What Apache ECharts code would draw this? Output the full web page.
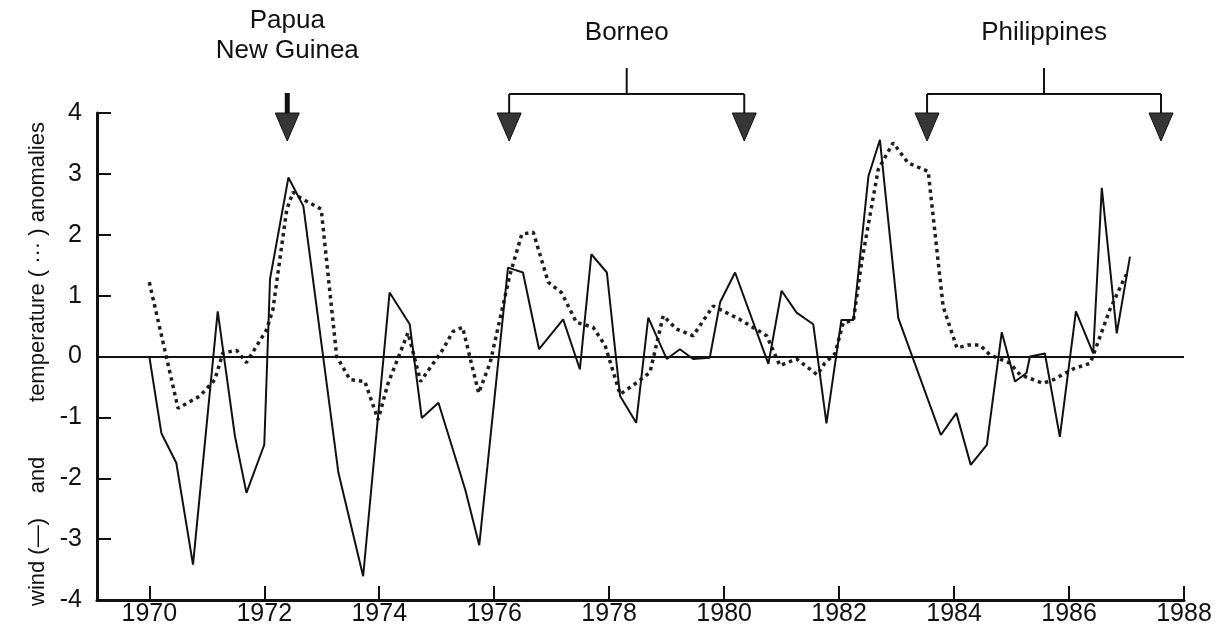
<!DOCTYPE html>
<html>
<head>
<meta charset="utf-8">
<title>Wind and temperature anomalies 1970-1988</title>
<script src="https://cdn.jsdelivr.net/npm/echarts@6/dist/echarts.min.js"></script>
<style>
  html, body { margin: 0; padding: 0; background: #ffffff; }
  #chart { width: 1215px; height: 634px; }
</style>
</head>
<body>
<div id="chart"></div>
<script>
// Wind anomalies (solid line): [year, anomaly]
const windPoints = [
  [1970.00, 0.00], [1970.21, -1.26], [1970.47, -1.75], [1970.76, -3.42],
  [1971.19, 0.74], [1971.49, -1.31], [1971.69, -2.24], [1972.00, -1.45],
  [1972.10, 1.27], [1972.42, 2.94], [1972.68, 2.47], [1973.29, -1.91],
  [1973.72, -3.61], [1974.18, 1.05], [1974.53, 0.53], [1974.74, -1.01],
  [1975.03, -0.76], [1975.37, -1.80], [1975.50, -2.20], [1975.74, -3.10],
  [1976.24, 1.46], [1976.50, 1.38], [1976.78, 0.12], [1977.20, 0.61],
  [1977.49, -0.21], [1977.69, 1.68], [1977.96, 1.38], [1978.19, -0.65],
  [1978.47, -1.09], [1978.68, 0.64], [1979.00, -0.04], [1979.23, 0.12],
  [1979.46, -0.04], [1979.75, -0.02], [1979.93, 0.89], [1980.19, 1.38],
  [1980.77, -0.12], [1981.00, 1.08], [1981.26, 0.72], [1981.55, 0.53],
  [1981.78, -1.10], [1982.04, 0.60], [1982.25, 0.60], [1982.51, 2.96],
  [1982.71, 3.56], [1983.03, 0.63], [1983.77, -1.29], [1984.04, -0.93],
  [1984.29, -1.78], [1984.57, -1.45], [1984.83, 0.40], [1985.06, -0.41],
  [1985.26, -0.27], [1985.32, 0.00], [1985.58, 0.05], [1985.84, -1.32],
  [1986.12, 0.74], [1986.42, 0.05], [1986.57, 2.77], [1986.83, 0.38],
  [1987.06, 1.64]
];

// Sea surface temperature anomalies (dotted line): [year, anomaly]
const tempPoints = [
  [1970.00, 1.22], [1970.50, -0.85], [1970.88, -0.65], [1971.14, -0.38],
  [1971.28, 0.06], [1971.52, 0.10], [1971.69, -0.10], [1972.04, 0.44],
  [1972.15, 0.77], [1972.39, 2.41], [1972.50, 2.70], [1972.62, 2.61],
  [1972.99, 2.42], [1973.26, 0.00], [1973.49, -0.38], [1973.75, -0.41],
  [1973.98, -1.04], [1974.15, -0.45], [1974.50, 0.39], [1974.72, -0.41],
  [1975.11, 0.12], [1975.28, 0.41], [1975.45, 0.48], [1975.73, -0.60],
  [1975.93, -0.10], [1976.27, 1.33], [1976.48, 2.01], [1976.68, 2.04],
  [1976.94, 1.22], [1977.17, 1.05], [1977.43, 0.56], [1977.72, 0.48],
  [1977.93, 0.18], [1978.19, -0.62], [1978.48, -0.43], [1978.71, -0.26],
  [1978.94, 0.67], [1979.17, 0.45], [1979.46, 0.34], [1979.81, 0.83],
  [1980.27, 0.61], [1980.74, 0.34], [1980.97, -0.15], [1981.26, -0.04],
  [1981.62, -0.30], [1981.75, -0.11], [1981.93, 0.05], [1982.07, 0.55],
  [1982.25, 0.60], [1982.39, 1.54], [1982.68, 3.07], [1982.94, 3.51],
  [1983.20, 3.18], [1983.55, 3.04], [1983.81, 0.82], [1984.05, 0.14],
  [1984.25, 0.19], [1984.45, 0.19], [1984.62, 0.03], [1984.97, -0.11],
  [1985.15, -0.30], [1985.32, -0.36], [1985.55, -0.44], [1985.73, -0.38],
  [1986.08, -0.20], [1986.37, -0.11], [1986.71, 0.77], [1986.95, 1.26],
  [1987.00, 1.35]
];

// Axis ticks
const yearTicks = [1970, 1972, 1974, 1976, 1978, 1980, 1982, 1984, 1986, 1988];
const anomalyTicks = [-4, -3, -2, -1, 0, 1, 2, 3, 4];

// Events marked above the plot
const papuaYear = 1972.4;
const borneoYears = [1976.26, 1980.35];
const philippinesYears = [1983.53, 1987.6];

const FONT = '"Liberation Sans", Arial, Helvetica, sans-serif';
const INK = '#111111';

const chart = echarts.init(document.getElementById('chart'), null, { renderer: 'canvas' });

const option = {
  backgroundColor: '#ffffff',
  animation: false,
  grid: { left: 97, right: 31, top: 113, bottom: 34, containLabel: false },
  xAxis: {
    type: 'value',
    min: 1969.09,
    max: 1988,
    axisLine: { show: true, onZero: false, lineStyle: { color: INK, width: 3 } },
    axisTick: {
      show: true, inside: true, length: 14,
      customValues: yearTicks,
      lineStyle: { color: INK, width: 2 }
    },
    axisLabel: {
      show: true, margin: 2,
      customValues: yearTicks,
      fontFamily: FONT, fontSize: 25, color: INK,
      formatter: v => String(v)
    },
    splitLine: { show: false }
  },
  yAxis: {
    type: 'value',
    min: anomalyTicks[0],
    max: anomalyTicks[anomalyTicks.length - 1],
    interval: 1,
    axisLine: { show: true, onZero: false, lineStyle: { color: INK, width: 3 } },
    axisTick: { show: true, inside: true, length: 14, lineStyle: { color: INK, width: 2 } },
    axisLabel: { show: true, margin: 15, fontFamily: FONT, fontSize: 25, color: INK },
    splitLine: { show: false }
  },
  series: [
    {
      name: 'wind',
      type: 'line',
      data: windPoints,
      showSymbol: false,
      symbol: 'none',
      lineStyle: { color: INK, width: 2 },
      z: 3,
      markLine: {
        silent: true,
        symbol: ['none', 'none'],
        label: { show: false },
        lineStyle: { color: INK, width: 2, type: 'solid' },
        data: [{ yAxis: 0 }]
      }
    },
    {
      name: 'temperature',
      type: 'line',
      data: tempPoints,
      showSymbol: false,
      symbol: 'none',
      lineStyle: { color: '#1e1e1e', width: 3.5, type: [3.5, 4] },
      z: 2
    }
  ]
};

chart.setOption(option);

// Pixel helpers for the annotation layer above the plot
function xPix(year) {
  return chart.convertToPixel({ gridIndex: 0 }, [year, 0])[0];
}

const HEAD_TOP = 113, HEAD_TIP = 141, HEAD_HALF = 12;
const BAR_Y = 94, STEM_TOP = 68;
const ANNOT_FONT = '26px ' + FONT;

function arrowHead(x) {
  return {
    type: 'polygon',
    shape: { points: [[x - HEAD_HALF, HEAD_TOP], [x + HEAD_HALF, HEAD_TOP], [x, HEAD_TIP]] },
    style: { fill: '#363636', stroke: INK, lineWidth: 1 },
    z: 10
  };
}

function bracket(years, label) {
  const xa = xPix(years[0]);
  const xb = xPix(years[1]);
  const xm = (xa + xb) / 2;
  return [
    {
      type: 'text',
      style: { text: label, x: xm, y: 33, align: 'center', verticalAlign: 'middle',
               font: ANNOT_FONT, fill: INK },
      z: 10
    },
    { type: 'line', shape: { x1: xm, y1: STEM_TOP, x2: xm, y2: BAR_Y },
      style: { stroke: INK, lineWidth: 2 }, z: 10 },
    { type: 'line', shape: { x1: xa, y1: BAR_Y, x2: xb, y2: BAR_Y },
      style: { stroke: INK, lineWidth: 2 }, z: 10 },
    { type: 'line', shape: { x1: xa, y1: BAR_Y, x2: xa, y2: HEAD_TOP },
      style: { stroke: INK, lineWidth: 2 }, z: 10 },
    { type: 'line', shape: { x1: xb, y1: BAR_Y, x2: xb, y2: HEAD_TOP },
      style: { stroke: INK, lineWidth: 2 }, z: 10 },
    arrowHead(xa),
    arrowHead(xb)
  ];
}

const xp = xPix(papuaYear);
const graphics = [
  {
    type: 'text',
    style: { text: 'Papua\nNew Guinea', x: xp, y: 6, align: 'center', verticalAlign: 'top',
             font: ANNOT_FONT, fill: INK, lineHeight: 30 },
    z: 10
  },
  { type: 'rect', shape: { x: xp - 2.5, y: 93, width: 5, height: 22 },
    style: { fill: INK }, z: 10 },
  arrowHead(xp)
].concat(bracket(borneoYears, 'Borneo'), bracket(philippinesYears, 'Philippines'));

// Vertical axis title, set in three spaced parts
const titleX = 38;
const titleParts = [
  { text: 'wind (—)', y: 562 },
  { text: 'and', y: 475 },
  { text: 'temperature ( ··· ) anomalies', y: 262 }
];
titleParts.forEach(p => {
  graphics.push({
    type: 'text',
    x: titleX, y: p.y,
    rotation: Math.PI / 2,
    style: { text: p.text, x: 0, y: 0, align: 'center', verticalAlign: 'middle',
             font: '22px ' + FONT, fill: INK },
    z: 10
  });
});

chart.setOption({ graphic: graphics });
</script>
</body>
</html>
